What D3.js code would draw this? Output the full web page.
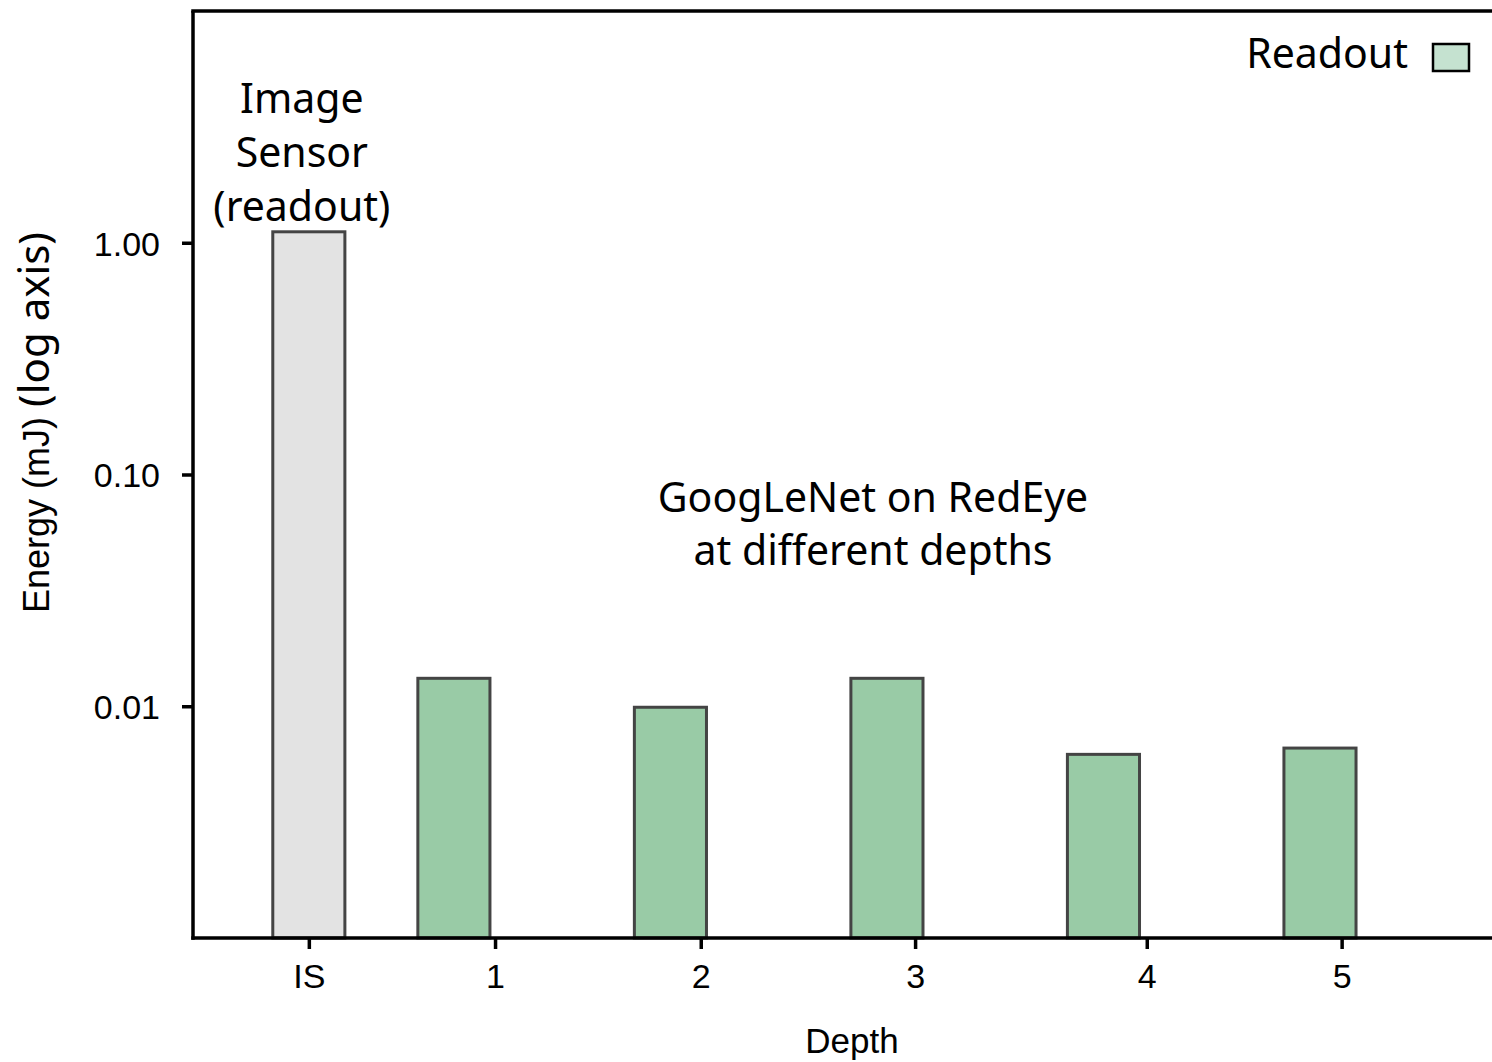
<!DOCTYPE html>
<html>
<head>
<meta charset="utf-8">
<script src="https://cdn.jsdelivr.net/npm/d3@7"></script>
<style>
  body { margin: 0; background: #fff; }
  .axis text { font-family: "Liberation Sans", Arial, sans-serif; font-size: 34px; fill: #000; }
  .axis path, .axis line { stroke: #000; stroke-width: 3.5px; }
  .note { font-family: "Noto Sans", "Open Sans", sans-serif; font-size: 41px; fill: #000; }
  .helv { font-family: "Liberation Sans", Arial, sans-serif; }
</style>
</head>
<body>
<div id="chart"></div>
<script>
// data
const categories = ["IS", "1", "2", "3", "4", "5"];
const energy = [1.115, 0.0132, 0.0099, 0.0132, 0.0062, 0.0066];   // mJ
const barSlot = [0.33, 1, 2, 3, 4, 5];          // where each bar sits on the depth axis
const tickSlot = [0.33, 1.19, 2.14, 3.13, 4.2, 5.1]; // where each tick label sits
const yTicks = [0.01, 0.1, 1];
const yTickLabels = ["0.01", "0.10", "1.00"];

function setup_chart_area() {
    const margin = {top: 11, right: 0, bottom: 124, left: 193},
          width = window.innerWidth - margin.left - margin.right,
          height = 1062 - margin.top - margin.bottom;

    var svg = d3.select("#chart")
        .append("svg")
        .attr("width", 1492)
        .attr("height", 1062)
        .append("g")
        .attr("transform", `translate(${margin.left}, ${margin.top})`);

    return [margin, width, height, svg];
}

function draw_barchart() {
    var [margin, width, height, svg] = setup_chart_area();

    var x = d3.scaleLinear()
        .domain([-0.205, 6])
        .range([0, 1343.5]);
    var y = d3.scaleLog()
        .domain([0.001, 10])
        .range([height, 0]);

    const barW = x(0.333) - x(0);

    // bars
    svg.selectAll("rect.bar")
        .data(energy)
        .enter().append("rect")
        .attr("class", "bar")
        .attr("x", (d, i) => x(barSlot[i]) - barW / 2)
        .attr("y", d => y(d))
        .attr("width", barW)
        .attr("height", d => height - y(d))
        .attr("fill", (d, i) => i == 0 ? "#e3e3e3" : "#99cba6")
        .attr("stroke", "#444")
        .attr("stroke-width", 3);

    // axes
    var xAxis = d3.axisBottom(x)
        .tickValues(tickSlot)
        .tickFormat((d, i) => categories[i])
        .tickSize(11)
        .tickSizeOuter(0)
        .tickPadding(15);
    var yAxis = d3.axisLeft(y)
        .tickValues(yTicks)
        .tickFormat((d, i) => yTickLabels[i])
        .tickSize(11)
        .tickSizeOuter(0)
        .tickPadding(22);

    var gx = svg.append("g")
        .attr("class", "axis")
        .attr("transform", `translate(0, ${height})`)
        .call(xAxis);
    gx.select(".domain").attr("d", `M-1.75,0H${width}`);

    var gy = svg.append("g")
        .attr("class", "axis")
        .call(yAxis);
    gy.select(".domain").attr("d", `M0,${height + 1.75}V0`);
    gy.selectAll(".tick text").attr("dy", "0.36em");

    // top frame line
    svg.append("line")
        .attr("x1", -1.75).attr("x2", width)
        .attr("y1", 0).attr("y2", 0)
        .attr("stroke", "#000").attr("stroke-width", 3.5);

    // axis titles
    svg.append("text")
        .attr("class", "helv")
        .attr("x", 852 - margin.left)
        .attr("y", 1053 - margin.top)
        .attr("text-anchor", "middle")
        .style("font-size", "35px")
        .text("Depth");

    var ylab = svg.append("text")
        .attr("transform", `translate(${49 - margin.left}, ${613 - margin.top}) rotate(-90)`)
        .attr("text-anchor", "start");
    ylab.append("tspan").attr("class", "helv").style("font-size", "36px").text("Energy (mJ)");
    ylab.append("tspan").attr("class", "note").style("font-size", "42px").attr("dx", 10).text("(log axis)");

    // annotations
    const isNote = ["Image", "Sensor", "(readout)"];
    svg.selectAll("text.isnote")
        .data(isNote)
        .enter().append("text")
        .attr("class", "note isnote")
        .attr("x", x(barSlot[0]) - 7)
        .attr("y", (d, i) => 113 - margin.top + i * 54)
        .attr("text-anchor", "middle")
        .text(d => d);

    const netNote = ["GoogLeNet on RedEye", "at different depths"];
    svg.selectAll("text.netnote")
        .data(netNote)
        .enter().append("text")
        .attr("class", "note netnote")
        .attr("x", 873 - margin.left)
        .attr("y", (d, i) => 512 - margin.top + i * 53)
        .attr("text-anchor", "middle")
        .text(d => d);

    // legend
    var lg = svg.append("g")
        .attr("transform", `translate(${1408 - margin.left}, ${68 - margin.top})`);
    lg.append("text")
        .attr("class", "note")
        .attr("text-anchor", "end")
        .text("Readout");
    lg.append("rect")
        .attr("x", 25).attr("y", -24)
        .attr("width", 36).attr("height", 27)
        .attr("fill", "#c5e2d0")
        .attr("stroke", "#000")
        .attr("stroke-width", 2.5);
}

draw_barchart();
</script>
</body>
</html>
